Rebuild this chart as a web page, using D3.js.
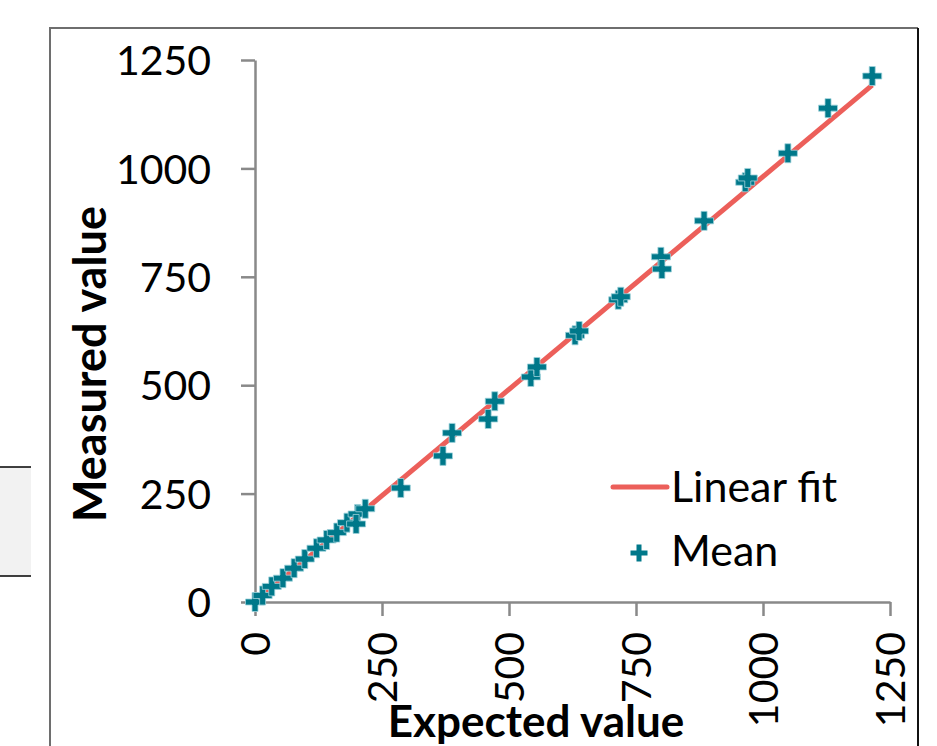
<!DOCTYPE html>
<html lang="en">
<head>
    <meta charset="UTF-8">
    <title>Measured vs expected</title>
    <script src="https://cdn.jsdelivr.net/npm/d3@7"></script>
    <style>
        body {
            margin: 0;
            background: #fff;
            font-family: 'Lato', 'Open Sans', sans-serif;
        }
        svg { display: block; }
    </style>
</head>
<body>
    <svg id="chart" width="937" height="746"></svg>

    <script>
        // Data
        const expected = [0, 15, 33, 55, 77, 98, 121, 141, 161, 181, 202, 199, 217, 287, 370, 388,
                          459, 472, 543, 555, 630, 638, 715, 720, 799, 801, 884, 965, 970, 1049, 1128, 1215];
        const measured = [0, 15, 36, 55, 78, 99, 124, 143, 160, 183, 203, 180, 215, 263, 337, 390,
                          422, 463, 519, 542, 615, 625, 697, 704, 796, 768, 879, 968, 978, 1035, 1139, 1213];
        const fitX = [0, 1215];
        const fitY = [0, 1192];
        const tickValues = [0, 250, 500, 750, 1000, 1250];

        const svg = d3.select("#chart");

        const x = d3.scaleLinear().domain([0, 1250]).range([255, 890]);
        const y = d3.scaleLinear().domain([0, 1250]).range([602, 60]);

        const axisColor = "#898989";
        const teal = "#00788a";
        const red = "#ec5f5a";

        // leftover shape from the page at the far left
        svg.append("rect")
            .attr("x", 0).attr("y", 467)
            .attr("width", 31).attr("height", 109)
            .attr("fill", "#f2f2f2");
        svg.append("line").attr("x1", 0).attr("x2", 31).attr("y1", 467).attr("y2", 467)
            .attr("stroke", "#000").attr("stroke-width", 1.5);
        svg.append("line").attr("x1", 0).attr("x2", 31).attr("y1", 576).attr("y2", 576)
            .attr("stroke", "#000").attr("stroke-width", 1.5);

        // chart frame
        svg.append("path")
            .attr("d", "M50,746 L50,28 L918,28")
            .attr("fill", "none")
            .attr("stroke", "#6e6e6e")
            .attr("stroke-width", 2);
        svg.append("line")
            .attr("x1", 918).attr("x2", 918).attr("y1", 28).attr("y2", 746)
            .attr("stroke", "#111")
            .attr("stroke-width", 2);

        // axes
        const fmt = d3.format("d");
        const yAxis = d3.axisLeft(y).tickValues(tickValues).tickFormat(fmt)
            .tickSize(14).tickSizeOuter(0).tickPadding(30);
        const xAxis = d3.axisBottom(x).tickValues(tickValues).tickFormat(fmt)
            .tickSize(14).tickSizeOuter(0);

        const gy = svg.append("g").attr("transform", `translate(${x(0)},0)`).call(yAxis);
        const gx = svg.append("g").attr("transform", `translate(0,${y(0)})`).call(xAxis);

        [gx, gy].forEach(g => {
            g.select(".domain").attr("stroke", axisColor).attr("stroke-width", 2.5);
            g.selectAll(".tick line").attr("stroke", axisColor).attr("stroke-width", 2.5);
            g.selectAll("text")
                .attr("fill", "#000")
                .style("font-family", "Lato, sans-serif")
                .style("font-size", "41px");
        });

        gy.selectAll("text").attr("dy", "0.36em");

        gx.selectAll("text")
            .attr("y", 0).attr("dy", "0.36em")
            .attr("transform", "translate(0,30) rotate(-90)")
            .attr("text-anchor", "end")
            .attr("x", 0);

        // linear fit
        const line = d3.line().x(d => x(d[0])).y(d => y(d[1]));
        svg.append("path")
            .datum(d3.zip(fitX, fitY))
            .attr("d", line)
            .attr("fill", "none")
            .attr("stroke", red)
            .attr("stroke-width", 5);

        // plus-shaped marker
        function crossPath(s, w) {
            const h = s / 2, t = w / 2;
            return `M${-h},${-t}H${-t}V${-h}H${t}V${-t}H${h}V${t}H${t}V${h}H${-t}V${t}H${-h}Z`;
        }

        svg.append("g")
            .selectAll("path")
            .data(d3.zip(expected, measured))
            .join("path")
            .attr("transform", d => `translate(${x(d[0])},${y(d[1])})`)
            .attr("d", crossPath(19, 6))
            .attr("fill", teal)
            .attr("stroke", "#9fd3dc")
            .attr("stroke-width", 0.8);

        // axis titles
        svg.append("text")
            .attr("transform", "translate(106,364) rotate(-90)")
            .attr("text-anchor", "middle")
            .style("font-family", "Lato, sans-serif")
            .style("font-weight", "bold")
            .style("font-size", "45px")
            .text("Measured value");

        svg.append("text")
            .attr("x", 536).attr("y", 737)
            .attr("text-anchor", "middle")
            .style("font-family", "Lato, sans-serif")
            .style("font-weight", "bold")
            .style("font-size", "44px")
            .text("Expected value");

        // legend
        const legend = svg.append("g");
        legend.append("line")
            .attr("x1", 613).attr("x2", 667).attr("y1", 487).attr("y2", 487)
            .attr("stroke", red).attr("stroke-width", 5).attr("stroke-linecap", "round");
        legend.append("text")
            .attr("x", 671).attr("y", 502)
            .style("font-size", "43px")
            .text("Linear fit");
        legend.append("path")
            .attr("transform", "translate(639,553)")
            .attr("d", crossPath(17, 5))
            .attr("fill", teal);
        legend.append("text")
            .attr("x", 671).attr("y", 566)
            .style("font-size", "43px")
            .text("Mean");
    </script>
</body>
</html>
